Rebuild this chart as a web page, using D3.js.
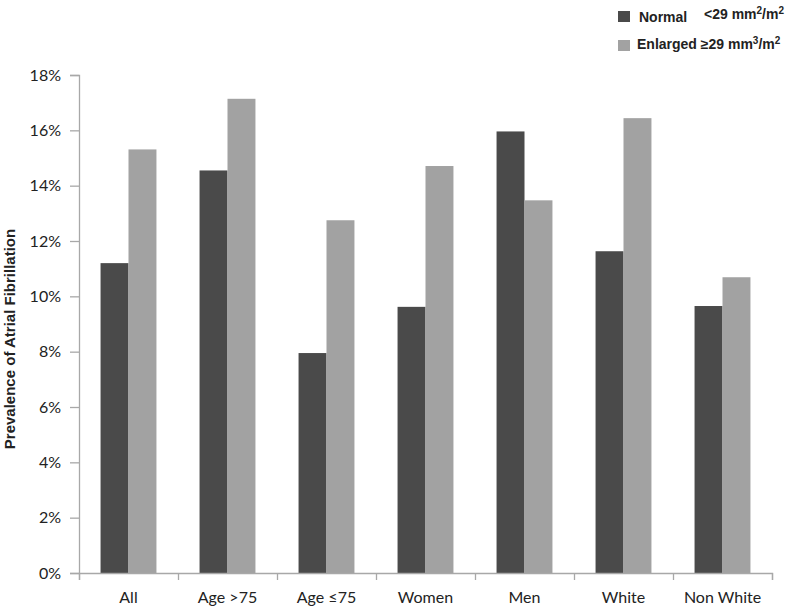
<!DOCTYPE html>
<html><head><meta charset="utf-8">
<script src="https://cdn.jsdelivr.net/npm/d3@7"></script>
<style>body{margin:0;background:#fff}svg{display:block}</style>
</head><body>
<svg id="chart" width="800" height="613"></svg>
<script>
const categories = ["All", "Age >75", "Age \u226475", "Women", "Men", "White", "Non White"];
const seriesNames = ["Normal", "Enlarged"];
const normalValues = [11.2, 14.55, 7.95, 9.62, 15.96, 11.63, 9.65];
const enlargedValues = [15.31, 17.14, 12.75, 14.71, 13.47, 16.44, 10.69];
const yTicks = [0, 2, 4, 6, 8, 10, 12, 14, 16, 18];
const colors = {Normal: "#4a4a4a", Enlarged: "#a2a2a2"};

const svg = d3.select("#chart");
const mLeft = 79, mRight = 772, mTop = 75, mBottom = 573;

const y = d3.scaleLinear().domain([0, 18]).range([mBottom, mTop]);
const x0 = d3.scaleBand().domain(categories).range([mLeft, mRight]).padding(0);
const bw = x0.bandwidth();
const x1 = d3.scaleBand().domain(seriesNames).range([bw * 0.2177, bw * 0.7823]).padding(0);

const data = categories.map((c, i) => ({cat: c, vals: [
  {s: "Normal", v: normalValues[i]}, {s: "Enlarged", v: enlargedValues[i]}]}));

const g = svg.append("g");
g.selectAll("g.grp").data(data).join("g").attr("class", "grp")
  .attr("transform", d => `translate(${x0(d.cat)},0)`)
  .selectAll("rect").data(d => d.vals).join("rect")
  .attr("x", d => x1(d.s)).attr("width", x1.bandwidth())
  .attr("y", d => y(d.v)).attr("height", d => mBottom - y(d.v))
  .attr("fill", d => colors[d.s]);

// Y axis
const yAxis = svg.append("g").attr("transform", `translate(${mLeft},0)`)
  .call(d3.axisLeft(y).tickValues(yTicks).tickFormat(d => d + "%").tickSize(9).tickPadding(9));
yAxis.selectAll("path,line").attr("stroke", "#a8a8a8").attr("stroke-width", 1.3);
yAxis.selectAll("text").attr("font-family", "Lato, 'Open Sans', sans-serif").attr("font-size", 16).attr("fill", "#222");

// X axis
const boundaries = categories.map(c => x0(c)).concat([mRight]);
const xAxisScale = d3.scaleLinear().domain([mLeft, mRight]).range([mLeft, mRight]);
const xAxis = svg.append("g").attr("transform", `translate(0,${mBottom})`)
  .call(d3.axisBottom(xAxisScale).tickValues(boundaries).tickFormat("").tickSize(7));
xAxis.selectAll("path,line").attr("stroke", "#a8a8a8").attr("stroke-width", 1.3);
svg.append("g").selectAll("text").data(categories).join("text")
  .attr("x", d => x0(d) + bw / 2).attr("y", 603)
  .attr("text-anchor", "middle")
  .attr("font-family", "Lato, 'Open Sans', sans-serif").attr("font-size", 16).attr("fill", "#222")
  .text(d => d);

// Y title
svg.append("text")
  .attr("transform", "translate(15,339) rotate(-90)")
  .attr("text-anchor", "middle")
  .attr("font-family", "'Liberation Sans', Arial, sans-serif").attr("font-weight", "bold")
  .attr("font-size", 15).attr("fill", "#222")
  .text("Prevalence of Atrial Fibrillation");

// Legend
const leg = svg.append("g").attr("font-family", "'Liberation Sans', Arial, sans-serif")
  .attr("font-weight", "bold").attr("font-size", 14).attr("fill", "#222");
leg.append("rect").attr("x", 618).attr("y", 11).attr("width", 12).attr("height", 11).attr("fill", colors.Normal);
leg.append("rect").attr("x", 618).attr("y", 40).attr("width", 12).attr("height", 11).attr("fill", colors.Enlarged);
const t1 = leg.append("text").attr("x", 639).attr("y", 22);
t1.append("tspan").text("Normal");
const t1b = leg.append("text").attr("x", 704).attr("y", 19);
t1b.append("tspan").text("<29 mm");
t1b.append("tspan").attr("dy", -5).attr("font-size", 10).text("2");
t1b.append("tspan").attr("dy", 5).text("/m");
t1b.append("tspan").attr("dy", -5).attr("font-size", 10).text("2");
const t2 = leg.append("text").attr("x", 637).attr("y", 49);
t2.append("tspan").text("Enlarged \u226529 mm");
t2.append("tspan").attr("dy", -5).attr("font-size", 10).text("3");
t2.append("tspan").attr("dy", 5).text("/m");
t2.append("tspan").attr("dy", -5).attr("font-size", 10).text("2");
</script>
</body></html>
